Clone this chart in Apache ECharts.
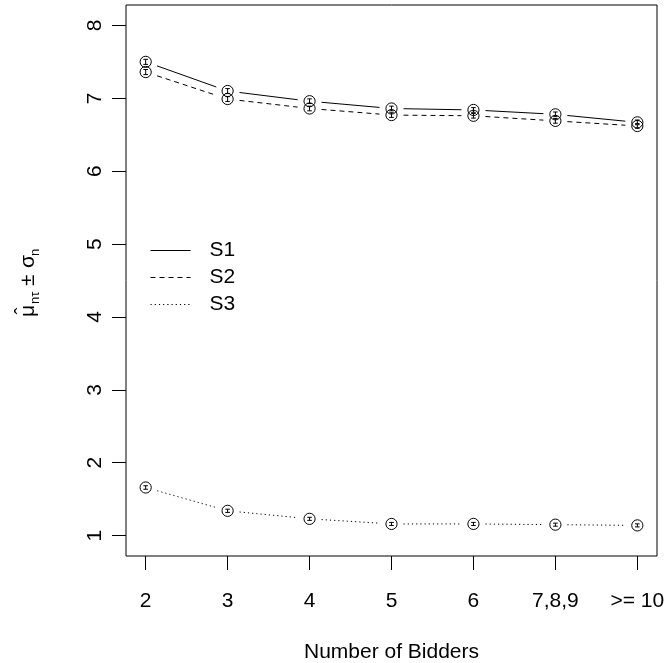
<!DOCTYPE html>
<html>
<head>
<meta charset="utf-8">
<script src="https://cdn.jsdelivr.net/npm/echarts@6/dist/echarts.min.js"></script>
<style>html,body{margin:0;padding:0;background:#fff}#c{width:667px;height:663px}</style>
</head>
<body>
<div id="c"></div>
<script>
// ---- data ----
const categories = ['2', '3', '4', '5', '6', '7,8,9', '>= 10'];
const xPositions = [1, 2, 3, 4, 5, 6, 7];
const yTicks = [1, 2, 3, 4, 5, 6, 7, 8];
const seriesNames = ['S1', 'S2', 'S3'];
const s1Mean = [7.50, 7.10, 6.96, 6.86, 6.84, 6.78, 6.67];
const s2Mean = [7.36, 6.99, 6.86, 6.77, 6.76, 6.69, 6.62];
const s3Mean = [1.66, 1.34, 1.23, 1.16, 1.16, 1.15, 1.14];
const s1Sd = [0.035, 0.033, 0.032, 0.032, 0.032, 0.032, 0.032];
const s2Sd = [0.035, 0.033, 0.032, 0.032, 0.032, 0.032, 0.032];
const s3Sd = [0.024, 0.022, 0.021, 0.021, 0.021, 0.021, 0.021];

const FONT = 'Liberation Sans, Arial, sans-serif';
const FS = 21;

function makeSeries(name, means, sds, dash) {
  return {
    type: 'custom',
    name: name,
    clip: false,
    data: means.map((v, i) => [xPositions[i], v, sds[i]]),
    renderItem: function (params, api) {
      const i = params.dataIndex;
      const x = api.value(0), y = api.value(1), sd = api.value(2);
      const p = api.coord([x, y]);
      const pt = api.coord([x, y + sd]);
      const pb = api.coord([x, y - sd]);
      const st = { stroke: '#000', fill: null, lineWidth: 1 };
      const children = [
        { type: 'circle', shape: { cx: p[0], cy: p[1], r: 5.6 }, style: st },
        { type: 'line', shape: { x1: p[0], y1: pt[1], x2: p[0], y2: pb[1] }, style: st },
        { type: 'line', shape: { x1: p[0] - 2.3, y1: pt[1], x2: p[0] + 2.3, y2: pt[1] }, style: st },
        { type: 'line', shape: { x1: p[0] - 2.3, y1: pb[1], x2: p[0] + 2.3, y2: pb[1] }, style: st }
      ];
      if (i < means.length - 1) {
        const q = api.coord([xPositions[i + 1], means[i + 1]]);
        const dx = q[0] - p[0], dy = q[1] - p[1];
        const len = Math.sqrt(dx * dx + dy * dy);
        const ux = dx / len, uy = dy / len;
        const gap = 12;
        children.push({
          type: 'line',
          shape: { x1: p[0] + ux * gap, y1: p[1] + uy * gap, x2: q[0] - ux * gap, y2: q[1] - uy * gap },
          style: { stroke: '#000', lineWidth: 1, lineDash: dash }
        });
      }
      return { type: 'group', children: children };
    }
  };
}

const chart = echarts.init(document.getElementById('c'), null, { renderer: 'canvas' });
const dashes = [null, [5, 4], [1.2, 3]];

const mainFont = FS + 'px ' + FONT;
const subFont = '13px ' + FONT;

const legendItems = [0, 1, 2].map(k => ({
  type: 'group',
  left: 148, top: 240 + k * 27,
  children: [
    { type: 'line', shape: { x1: 0, y1: 13, x2: 40, y2: 13 }, style: { stroke: '#000', lineWidth: 1, lineDash: dashes[k] } },
    { type: 'text', x: 59, y: 13, style: { text: seriesNames[k], fill: '#000', font: mainFont, textVerticalAlign: 'middle' } }
  ]
}));

function yText(str, x, y, font, align) {
  return { type: 'text', x: x, y: y, style: { text: str, fill: '#000', font: font, textAlign: align || 'left', textVerticalAlign: 'top' } };
}
const yTitle = {
  type: 'group',
  x: 37, y: 283,
  rotation: Math.PI / 2,
  children: [
    yText('μ', -34, -19, mainFont),
    yText('ˆ', -28, -24, mainFont, 'center'),
    yText('nτ', -21, -8, subFont),
    yText('±', -3, -19, mainFont),
    yText('σ', 15, -19, mainFont),
    yText('n', 27, -8, subFont)
  ]
};

chart.setOption({
  backgroundColor: '#fff',
  animation: false,
  textStyle: { fontFamily: FONT },
  grid: { left: 126, right: 10, top: 5, bottom: 107, show: true, borderColor: '#000', borderWidth: 1, backgroundColor: 'transparent', containLabel: false, outerBoundsMode: 'none' },
  xAxis: {
    type: 'value', min: 0.76, max: 7.24,
    axisLine: { show: false },
    splitLine: { show: false },
    axisTick: { show: true, customValues: xPositions, length: 14, lineStyle: { color: '#000' } },
    axisLabel: { customValues: xPositions, formatter: v => categories[Math.round(v) - 1], color: '#000', fontSize: FS, fontFamily: FONT, margin: 35 },
    name: 'Number of Bidders', nameLocation: 'middle', nameGap: 86,
    nameTextStyle: { color: '#000', fontSize: FS, fontFamily: FONT }
  },
  yAxis: {
    type: 'value', min: 0.72, max: 8.28,
    axisLine: { show: false },
    splitLine: { show: false },
    axisTick: { show: true, customValues: yTicks, length: 14, lineStyle: { color: '#000' } },
    axisLabel: { customValues: yTicks, rotate: 90, color: '#000', fontSize: FS, fontFamily: FONT, margin: 20 }
  },
  series: [
    makeSeries(seriesNames[0], s1Mean, s1Sd, dashes[0]),
    makeSeries(seriesNames[1], s2Mean, s2Sd, dashes[1]),
    makeSeries(seriesNames[2], s3Mean, s3Sd, dashes[2])
  ],
  graphic: legendItems.concat([yTitle])
});
</script>
</body>
</html>
